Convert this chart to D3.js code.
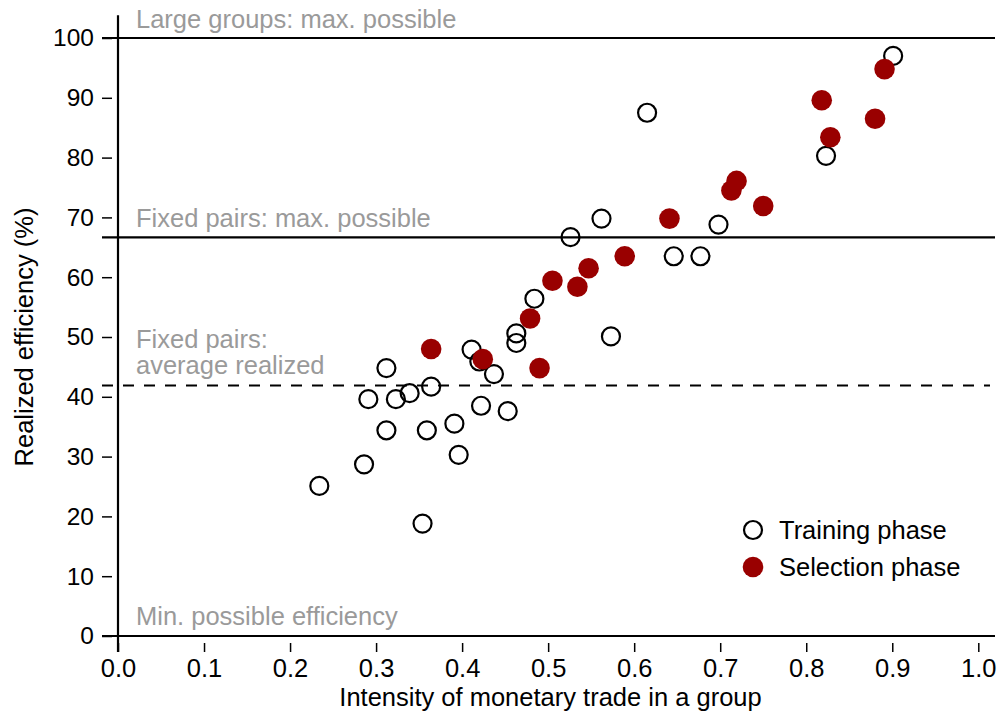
<!DOCTYPE html>
<html>
<head>
<meta charset="utf-8">
<script src="https://cdn.jsdelivr.net/npm/d3@7"></script>
<style>
  body { margin: 0; background: #fff; }
  svg text { font-family: "Liberation Sans", Arial, sans-serif; }
</style>
</head>
<body>
<div id="chart"></div>
<script>
// training phase groups: [intensity, efficiency]
const trainingX = [0.234, 0.286, 0.354, 0.312, 0.291, 0.323, 0.339, 0.312, 0.359, 0.364,
                   0.391, 0.396, 0.411, 0.420, 0.437, 0.422, 0.453, 0.463, 0.463, 0.484,
                   0.615, 0.562, 0.526, 0.698, 0.646, 0.677, 0.823, 0.901, 0.573];
const trainingY = [25.1, 28.7, 18.8, 44.8, 39.6, 39.6, 40.6, 34.4, 34.4, 41.7,
                   35.5, 30.3, 47.9, 45.9, 43.8, 38.5, 37.6, 50.6, 49.0, 56.4,
                   87.5, 69.8, 66.7, 68.8, 63.5, 63.5, 80.3, 97.0, 50.1];

// selection phase groups
const selectionX = [0.364, 0.424, 0.479, 0.490, 0.505, 0.534, 0.547, 0.589, 0.641, 0.713,
                    0.719, 0.750, 0.818, 0.828, 0.880, 0.891];
const selectionY = [48.0, 46.3, 53.1, 44.8, 59.4, 58.4, 61.5, 63.5, 69.8, 74.5,
                    76.1, 71.9, 89.6, 83.4, 86.5, 94.8];

// reference lines
const refLevels = [100, 66.67, 0];
const avgRealized = 41.9;
const xTicks = [0, 0.1, 0.2, 0.3, 0.4, 0.5, 0.6, 0.7, 0.8, 0.9, 1.0];
const yTicks = [0, 10, 20, 30, 40, 50, 60, 70, 80, 90, 100];

const width = 1001, height = 712;
const red = "#990000", grey = "#9a9a9a";
const fs = "25.5px";

const svg = d3.select("#chart").append("svg")
    .attr("width", width)
    .attr("height", height);

const x = d3.scaleLinear().domain([0, 1]).range([118, 978.3]);
const y = d3.scaleLinear().domain([0, 100]).range([636, 38]);

// horizontal reference lines
svg.selectAll("line.ref").data(refLevels).enter().append("line")
    .attr("class", "ref")
    .attr("x1", 102).attr("x2", 995)
    .attr("y1", d => y(d)).attr("y2", d => y(d))
    .attr("stroke", "#000").attr("stroke-width", 2.2);

svg.append("line")
    .attr("x1", 102).attr("x2", 990)
    .attr("y1", y(avgRealized)).attr("y2", y(avgRealized))
    .attr("stroke", "#000").attr("stroke-width", 2)
    .attr("stroke-dasharray", "11,10");

// y axis line
svg.append("line")
    .attr("x1", 118).attr("x2", 118)
    .attr("y1", y(103.8)).attr("y2", 652)
    .attr("stroke", "#000").attr("stroke-width", 2.2);

// axes (ticks sit away from the axis line)
const yAxis = svg.append("g")
    .attr("transform", "translate(112,0)")
    .call(d3.axisLeft(y).tickValues(yTicks).tickSize(10).tickPadding(8));
const xAxis = svg.append("g")
    .attr("transform", "translate(0,643)")
    .call(d3.axisBottom(x).tickValues(xTicks).tickSize(9).tickPadding(7).tickFormat(d3.format(".1f")));

[yAxis, xAxis].forEach(g => {
    g.select(".domain").remove();
    g.selectAll(".tick line").attr("stroke", "#000").attr("stroke-width", 1.5);
    g.selectAll(".tick text").attr("fill", "#000").style("font-size", "24.5px");
});
xAxis.selectAll(".tick text").style("font-size", fs);

// annotations
const notes = [
    ["Large groups: max. possible", 28],
    ["Fixed pairs: max. possible", 227],
    ["Fixed pairs:", 348],
    ["average realized", 374],
    ["Min. possible efficiency", 625]
];
svg.selectAll("text.note").data(notes).enter().append("text")
    .attr("class", "note")
    .attr("x", 136).attr("y", d => d[1])
    .attr("fill", grey)
    .style("font-size", fs)
    .text(d => d[0]);

// points
svg.append("g").selectAll("circle").data(d3.zip(trainingX, trainingY)).enter().append("circle")
    .attr("cx", d => x(d[0]))
    .attr("cy", d => y(d[1]))
    .attr("r", 9)
    .attr("fill", "none")
    .attr("stroke", "#000")
    .attr("stroke-width", 2.2);

svg.append("g").selectAll("circle").data(d3.zip(selectionX, selectionY)).enter().append("circle")
    .attr("cx", d => x(d[0]))
    .attr("cy", d => y(d[1]))
    .attr("r", 10.3)
    .attr("fill", red);

// legend
const legend = svg.append("g");
legend.append("circle").attr("cx", 753).attr("cy", 530).attr("r", 9)
    .attr("fill", "none").attr("stroke", "#000").attr("stroke-width", 2.2);
legend.append("circle").attr("cx", 753).attr("cy", 567).attr("r", 10.3).attr("fill", red);
legend.append("text").attr("x", 779).attr("y", 538.5).style("font-size", fs).text("Training phase");
legend.append("text").attr("x", 779).attr("y", 576).style("font-size", fs).text("Selection phase");

// axis titles
svg.append("text")
    .attr("x", (118 + 995) / 2 - 6).attr("y", 706)
    .attr("text-anchor", "middle")
    .style("font-size", fs)
    .text("Intensity of monetary trade in a group");

svg.append("text")
    .attr("transform", "translate(33,337) rotate(-90)")
    .attr("text-anchor", "middle")
    .style("font-size", fs)
    .text("Realized efficiency (%)");
</script>
</body>
</html>
